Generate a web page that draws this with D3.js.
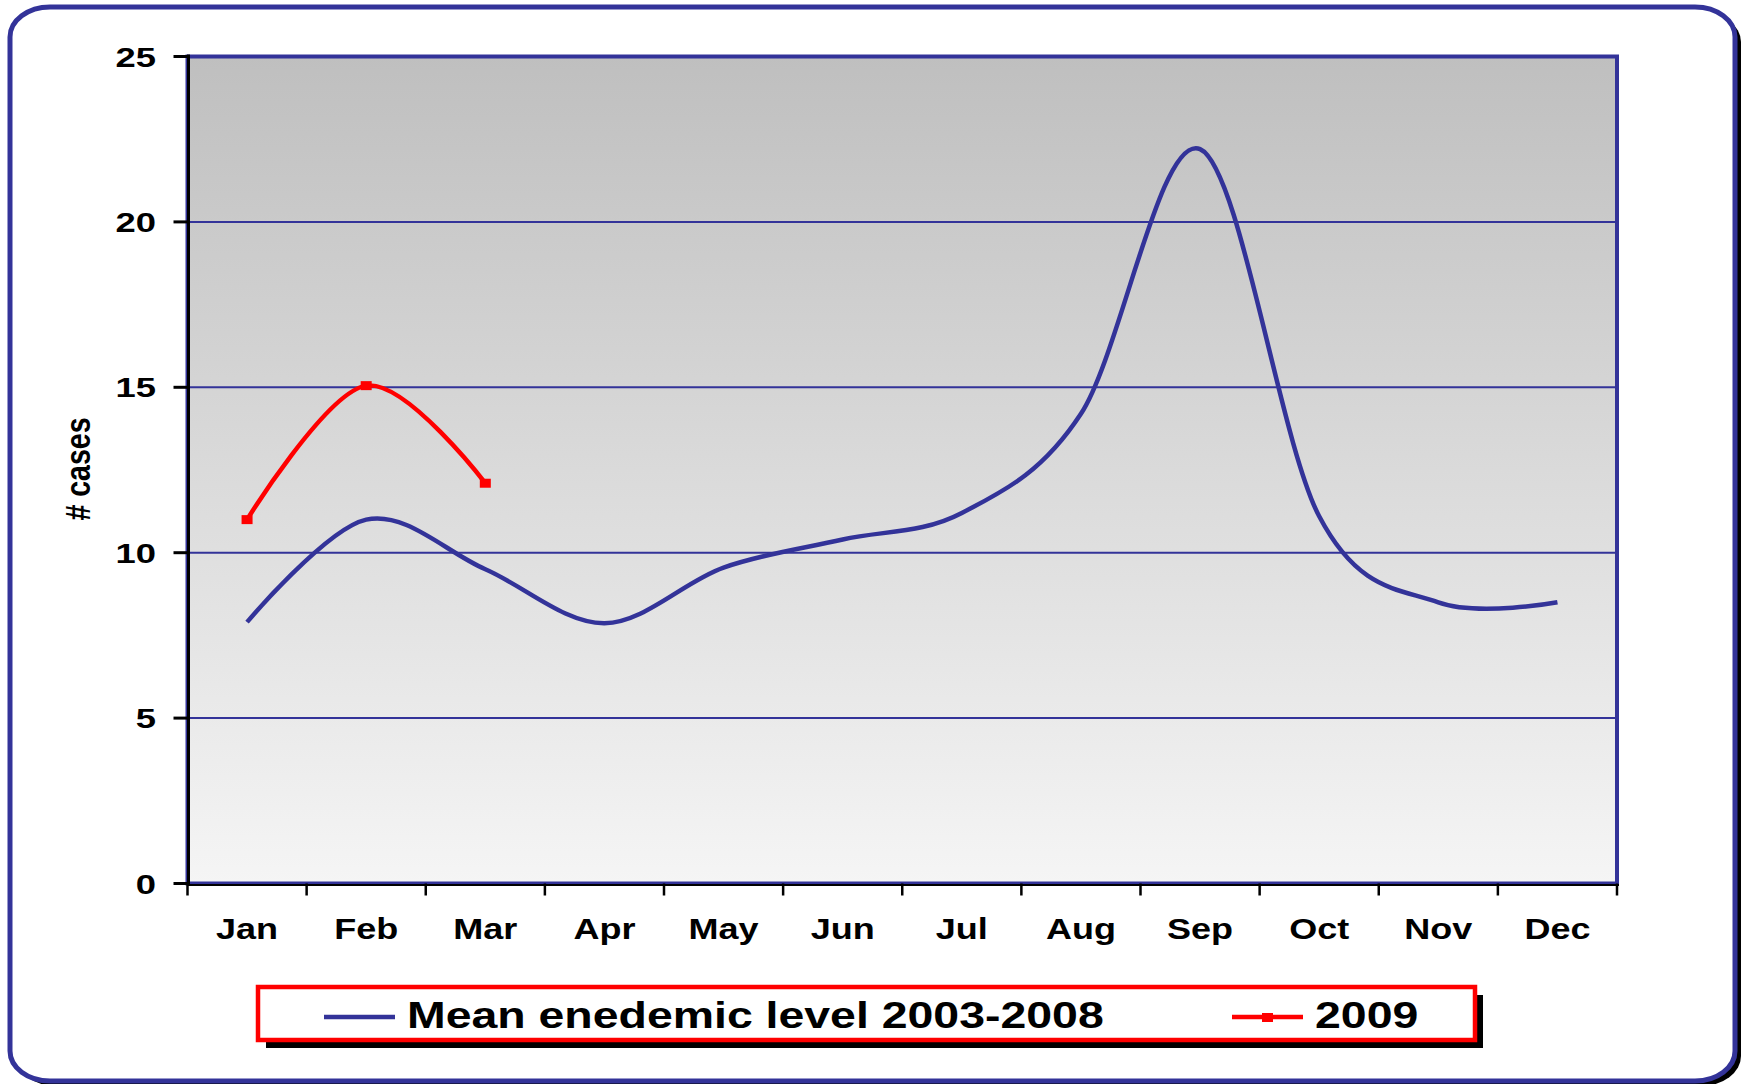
<!DOCTYPE html>
<html>
<head>
<meta charset="utf-8">
<script src="https://cdn.jsdelivr.net/npm/d3@7"></script>
<style>
  body { margin: 0; background: #fff; }
  text { font-family: "Liberation Sans", Arial, sans-serif; font-weight: bold; fill: #000; }
</style>
</head>
<body>
<svg id="chart" width="1752" height="1084"></svg>
<script>
// monthly values
const months = ["Jan", "Feb", "Mar", "Apr", "May", "Jun", "Jul", "Aug", "Sep", "Oct", "Nov", "Dec"];
const meanLevel = [7.9, 11.0, 9.5, 7.87, 9.55, 10.4, 11.2, 14.2, 22.2, 11.1, 8.5, 8.5];
const cases2009 = [11.0, 15.05, 12.1];
const yTicks = [0, 5, 10, 15, 20, 25];
const seriesNames = ["Mean enedemic level 2003-2008", "2009"];

const BLUE = "#333399", RED = "#ff0000";
const svg = d3.select("#chart");

// the text in the original is stretched sideways, so every label gets scaleX
function label(g, x, y, txt, size, sx, anchor) {
	return g.append("text")
		.attr("transform", `translate(${x},${y}) scale(${sx},1)`)
		.attr("text-anchor", anchor || "middle")
		.style("font-size", size + "px")
		.text(txt);
}

const defs = svg.append("defs");
const grad = defs.append("linearGradient")
	.attr("id", "plotBg")
	.attr("x1", 0).attr("y1", 0).attr("x2", 0).attr("y2", 1);
grad.append("stop").attr("offset", 0).attr("stop-color", "#bfbfbf");
grad.append("stop").attr("offset", 1).attr("stop-color", "#f5f5f5");

// outer rounded frame + black shadow
svg.append("rect")
	.attr("x", 16).attr("y", 12).attr("width", 1725).attr("height", 1074)
	.attr("rx", 40).attr("ry", 30).attr("fill", "#000");
svg.append("rect")
	.attr("x", 10).attr("y", 7).attr("width", 1725).attr("height", 1074)
	.attr("rx", 40).attr("ry", 30)
	.attr("fill", "#fff").attr("stroke", BLUE).attr("stroke-width", 5);

const pLeft = 187.5, pRight = 1617, pTop = 56.5, pBottom = 883.5;

const x = d3.scaleBand().domain(months).range([pLeft, pRight]);
const xc = m => x(m) + x.bandwidth() / 2;
const y = d3.scaleLinear().domain([0, 25]).range([pBottom, pTop]);

// plot area
svg.append("rect")
	.attr("x", pLeft).attr("y", pTop)
	.attr("width", pRight - pLeft).attr("height", pBottom - pTop)
	.attr("fill", "url(#plotBg)")
	.attr("stroke", BLUE).attr("stroke-width", 4);

// gridlines
svg.append("g")
	.selectAll("line")
	.data(yTicks.filter(d => d > 0 && d < 25))
	.join("line")
	.attr("x1", pLeft).attr("x2", pRight)
	.attr("y1", d => y(d)).attr("y2", d => y(d))
	.attr("stroke", BLUE).attr("stroke-width", 2);

// axes (black)
svg.append("line")
	.attr("x1", pLeft + 1).attr("x2", pLeft + 1)
	.attr("y1", pTop - 2).attr("y2", pBottom + 2)
	.attr("stroke", "#000").attr("stroke-width", 3);
svg.append("line")
	.attr("x1", pLeft).attr("x2", pRight + 2)
	.attr("y1", pBottom + 1.5).attr("y2", pBottom + 1.5)
	.attr("stroke", "#000").attr("stroke-width", 2);

const yAxis = svg.append("g");
yAxis.selectAll("line")
	.data(yTicks)
	.join("line")
	.attr("x1", pLeft - 14).attr("x2", pLeft)
	.attr("y1", d => y(d)).attr("y2", d => y(d))
	.attr("stroke", "#000").attr("stroke-width", 3);
yTicks.forEach(t => label(yAxis, 156, y(t) + 10, t, 28, 1.3, "end"));

// x ticks sit on the month boundaries
const xAxis = svg.append("g");
xAxis.selectAll("line")
	.data(d3.range(months.length + 1))
	.join("line")
	.attr("x1", i => pLeft + i * x.bandwidth())
	.attr("x2", i => pLeft + i * x.bandwidth())
	.attr("y1", pBottom).attr("y2", pBottom + 12)
	.attr("stroke", "#000").attr("stroke-width", 2.5);
months.forEach(m => label(xAxis, xc(m), 939, m, 30, 1.2));

// y title
svg.append("text")
	.attr("transform", "translate(90,469) scale(1.25,1) rotate(-90)")
	.attr("text-anchor", "middle")
	.style("font-size", "28.5px")
	.text("# cases");

// series
const line = d3.line()
	.x((d, i) => xc(months[i]))
	.y(d => y(d))
	.curve(d3.curveCardinal.tension(0));

svg.append("path")
	.datum(meanLevel)
	.attr("d", line)
	.attr("fill", "none")
	.attr("stroke", BLUE).attr("stroke-width", 4.5)
	.attr("stroke-linejoin", "round");

svg.append("path")
	.datum(cases2009)
	.attr("d", line)
	.attr("fill", "none")
	.attr("stroke", RED).attr("stroke-width", 4.5)
	.attr("stroke-linejoin", "round");

svg.append("g")
	.selectAll("rect")
	.data(cases2009)
	.join("rect")
	.attr("x", (d, i) => xc(months[i]) - 5.5)
	.attr("y", d => y(d) - 4.5)
	.attr("width", 11).attr("height", 9)
	.attr("fill", RED);

// legend
const lg = svg.append("g");
lg.append("rect")
	.attr("x", 266).attr("y", 995).attr("width", 1217).attr("height", 53)
	.attr("fill", "#000");
lg.append("rect")
	.attr("x", 258).attr("y", 987).attr("width", 1217).attr("height", 53)
	.attr("fill", "#fff").attr("stroke", RED).attr("stroke-width", 4.5);

lg.append("line")
	.attr("x1", 324).attr("x2", 395).attr("y1", 1017).attr("y2", 1017)
	.attr("stroke", BLUE).attr("stroke-width", 4.5);
label(lg, 407, 1028, seriesNames[0], 37, 1.255, "start");

lg.append("line")
	.attr("x1", 1232).attr("x2", 1303).attr("y1", 1017).attr("y2", 1017)
	.attr("stroke", RED).attr("stroke-width", 4.5);
lg.append("rect")
	.attr("x", 1262).attr("y", 1013).attr("width", 11).attr("height", 9)
	.attr("fill", RED);
label(lg, 1315, 1028, seriesNames[1], 37, 1.255, "start");
</script>
</body>
</html>
